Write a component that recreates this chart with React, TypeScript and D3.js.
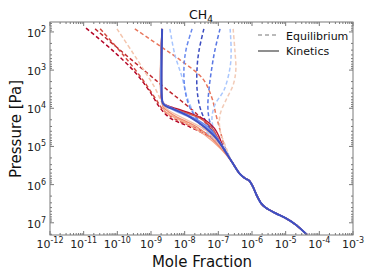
import * as d3 from "d3";

// log10(mole fraction), log10(pressure / Pa) pairs
const deepProfile: [number, number][] = [
  [-6.6, 5.4], [-6.36, 5.72], [-6.2, 5.84], [-6.08, 5.9], [-5.97, 6.06],
  [-5.85, 6.3], [-5.72, 6.5], [-5.6, 6.6], [-5.3, 6.75], [-5.0, 6.88],
  [-4.7, 7.05], [-4.37, 7.31],
];

// equilibrium (dashed), upper parts
const eqDarkRed: [number, number][] = [[-10.93, 1.9], [-10.16, 2.47], [-9.48, 3.05], [-9.03, 3.57], [-8.73, 3.99], [-8.44, 4.25], [-7.84, 4.49], [-7.25, 4.75], [-6.89, 5.01]];
const eqRed1: [number, number][] = [[-10.66, 1.92], [-9.86, 2.52], [-9.12, 3.07], [-8.58, 3.47], [-7.78, 4.04], [-7.4, 4.36], [-7.1, 4.7], [-6.89, 5.01]];
const eqRed2: [number, number][] = [[-10.51, 1.92], [-9.8, 2.63], [-9.24, 3.26], [-8.88, 3.73], [-8.64, 4.04], [-8.29, 4.28], [-7.54, 4.57], [-7.1, 4.83], [-6.89, 5.04]];
const eqPale: [number, number][] = [[-10.01, 1.92], [-9.56, 2.52], [-9.27, 2.92], [-8.88, 3.47], [-8.67, 3.86], [-8.44, 4.17], [-7.84, 4.43], [-7.19, 4.77], [-6.89, 5.04]];
const eqSalmon: [number, number][] = [[-9.48, 1.92], [-8.7, 2.39], [-8.14, 2.73], [-7.46, 3.23], [-7.19, 3.73], [-7.07, 4.17], [-6.95, 4.57], [-6.83, 4.96]];
const eqLightBlue1: [number, number][] = [[-8.44, 1.92], [-8.29, 2.6], [-8.08, 3.18], [-7.93, 3.7], [-7.75, 4.09], [-7.54, 4.43], [-7.19, 4.77], [-6.89, 5.04]];
const eqBlue1: [number, number][] = [[-7.78, 1.92], [-7.96, 2.47], [-8.02, 2.92], [-7.99, 3.52], [-7.84, 3.99], [-7.6, 4.3], [-7.25, 4.62], [-6.89, 4.98]];
const eqDarkBlue: [number, number][] = [[-7.43, 1.92], [-7.57, 2.47], [-7.63, 2.92], [-7.63, 3.52], [-7.54, 3.99], [-7.4, 4.3], [-7.16, 4.62], [-6.89, 4.98]];
const eqBlue2: [number, number][] = [[-6.95, 1.92], [-7.1, 2.47], [-7.19, 2.92], [-7.28, 3.52], [-7.31, 3.99], [-7.25, 4.36], [-7.07, 4.7], [-6.83, 5.01]];
const eqLightBlue2: [number, number][] = [[-6.65, 1.92], [-6.62, 2.47], [-6.65, 2.92], [-6.83, 3.52], [-7.1, 3.91], [-7.19, 4.3], [-7.07, 4.7], [-6.83, 5.01]];
const eqPink: [number, number][] = [[-6.56, 1.92], [-6.51, 2.47], [-6.48, 2.99], [-6.56, 3.39], [-6.77, 3.78], [-6.95, 4.17], [-6.95, 4.57], [-6.8, 4.96]];

// kinetics (solid), upper parts
const kinDarkRed: [number, number][] = [[-8.67, 1.92], [-8.67, 3.8], [-8.58, 3.9], [-8.38, 3.97], [-7.84, 4.13], [-7.4, 4.3], [-7.12, 4.52], [-6.95, 4.8], [-6.85, 5.05]];
const kinRed: [number, number][] = [[-8.67, 1.92], [-8.67, 3.82], [-8.55, 3.94], [-8.14, 4.07], [-7.55, 4.26], [-7.2, 4.5], [-7.0, 4.8], [-6.85, 5.05]];
const kinSalmon: [number, number][] = [[-8.67, 1.92], [-8.67, 3.8], [-8.64, 3.96], [-8.35, 4.17], [-7.63, 4.49], [-7.19, 4.8], [-6.9, 5.07]];
const kinLightSalmon: [number, number][] = [[-8.67, 1.92], [-8.67, 3.83], [-8.58, 4.09], [-8.14, 4.3], [-7.4, 4.7], [-6.92, 5.07]];
const kinPale: [number, number][] = [[-8.67, 1.92], [-8.67, 3.86], [-8.5, 4.04], [-8.0, 4.28], [-7.3, 4.62], [-6.88, 5.05]];
const kinLightBlue: [number, number][] = [[-8.67, 1.92], [-8.67, 3.8], [-8.58, 3.91], [-8.29, 4.07], [-7.69, 4.3], [-7.25, 4.57], [-6.98, 4.85], [-6.85, 5.05]];
const kinBlue: [number, number][] = [[-8.67, 1.92], [-8.67, 3.8], [-8.64, 3.88], [-8.38, 3.99], [-7.78, 4.23], [-7.31, 4.49], [-7.02, 4.8], [-6.85, 5.05]];
const kinDarkBlue: [number, number][] = [[-8.67, 1.92], [-8.67, 3.78], [-8.64, 3.88], [-8.53, 3.96], [-8.35, 4.02], [-7.84, 4.23], [-7.4, 4.5], [-7.1, 4.75], [-6.85, 5.05]];

const eqSeries = [eqDarkRed, eqRed1, eqRed2, eqPale, eqSalmon, eqLightBlue1, eqBlue1, eqDarkBlue, eqBlue2, eqLightBlue2, eqPink];
const eqColors = ["#b40426", "#c0282f", "#d24b40", "#f4c5ad", "#e8765c", "#a7c5fe", "#6788ee", "#3b4cc0", "#5a78e4", "#aac7fd", "#f2cbb7"];
const kinSeries = [kinLightSalmon, kinSalmon, kinPale, kinDarkRed, kinRed, kinLightBlue, kinBlue, kinDarkBlue];
const kinColors = ["#f4a385", "#ee8468", "#f2c0a8", "#b40426", "#d65244", "#9dbdfc", "#6384eb", "#3b4cc0"];

const xExponents = [-12, -11, -10, -9, -8, -7, -6, -5, -4, -3];
const yExponents = [2, 3, 4, 5, 6, 7];

const W = 374;
const H = 280;
const M = { left: 50, right: 353, top: 22, bottom: 235 };
const FONT = "DejaVu Sans, sans-serif";
const FRAME = "#7a7a7a";

export default function App() {
  const x = d3.scaleLog().domain([1e-12, 1e-3]).range([M.left, M.right]);
  const y = d3.scaleLog().domain([Math.pow(10, 1.74), Math.pow(10, 7.32)]).range([M.top, M.bottom]);

  const line = d3
    .line<[number, number]>()
    .x((d) => x(Math.pow(10, d[0])))
    .y((d) => y(Math.pow(10, d[1])))
    .curve(d3.curveCatmullRom.alpha(0.5));

  const full = (upper: [number, number][]) => {
    const lastP = upper[upper.length - 1][1];
    return upper.concat(deepProfile.filter((d) => d[1] > lastP + 0.15));
  };

  // minor ticks from the scales
  const xMinor: number[] = [];
  xExponents.slice(0, -1).forEach((e) => {
    for (let k = 2; k <= 9; k++) xMinor.push(k * Math.pow(10, e));
  });
  const yMinor: number[] = [];
  for (let e = 1; e <= 7; e++) {
    for (let k = 2; k <= 9; k++) {
      const v = k * Math.pow(10, e);
      if (v >= y.domain()[0] && v <= y.domain()[1]) yMinor.push(v);
    }
  }

  return (
    <svg width={W} height={H} style={{ position: "absolute", left: 0, top: 0, background: "#fff" }} fontFamily={FONT}>
      <defs>
        <clipPath id="plot">
          <rect x={M.left} y={M.top} width={M.right - M.left} height={M.bottom - M.top} />
        </clipPath>
      </defs>

      <g clipPath="url(#plot)" fill="none">
        {eqSeries.map((s, i) => (
          <path key={"e" + i} d={line(full(s)) || ""} stroke={eqColors[i]} strokeWidth={1.5} strokeDasharray="4,2.5" />
        ))}
        {kinSeries.map((s, i) => (
          <path
            key={"k" + i}
            d={line(full(s)) || ""}
            stroke={kinColors[i]}
            strokeWidth={i === kinSeries.length - 1 ? 2 : 1.4}
            opacity={0.95}
          />
        ))}
      </g>

      {/* frame */}
      <rect x={M.left} y={M.top} width={M.right - M.left} height={M.bottom - M.top} fill="none" stroke={FRAME} strokeWidth={1} />

      {/* x ticks */}
      {xExponents.map((e) => {
        const px = x(Math.pow(10, e));
        return (
          <g key={"xt" + e}>
            <line x1={px} x2={px} y1={M.bottom} y2={M.bottom - 4} stroke={FRAME} />
            <line x1={px} x2={px} y1={M.top} y2={M.top + 4} stroke={FRAME} />
            <text x={px} y={248} textAnchor="middle" fontSize={11} fill="#222">
              10<tspan fontSize={8} dy={-5}>{e}</tspan>
            </text>
          </g>
        );
      })}
      {xMinor.map((v, i) => {
        const px = x(v);
        return (
          <g key={"xm" + i}>
            <line x1={px} x2={px} y1={M.bottom} y2={M.bottom - 2} stroke={FRAME} />
            <line x1={px} x2={px} y1={M.top} y2={M.top + 2} stroke={FRAME} />
          </g>
        );
      })}

      {/* y ticks */}
      {yExponents.map((e) => {
        const py = y(Math.pow(10, e));
        return (
          <g key={"yt" + e}>
            <line x1={M.left} x2={M.left + 4} y1={py} y2={py} stroke={FRAME} />
            <line x1={M.right} x2={M.right - 4} y1={py} y2={py} stroke={FRAME} />
            <text x={41} y={py + 5} textAnchor="end" fontSize={11} fill="#222">
              10
            </text>
            <text x={41} y={py} fontSize={8} fill="#222">
              {e}
            </text>
          </g>
        );
      })}
      {yMinor.map((v, i) => {
        const py = y(v);
        return (
          <g key={"ym" + i}>
            <line x1={M.left} x2={M.left + 2} y1={py} y2={py} stroke={FRAME} />
            <line x1={M.right} x2={M.right - 2} y1={py} y2={py} stroke={FRAME} />
          </g>
        );
      })}

      {/* title */}
      <text x={201} y={19} textAnchor="middle" fontSize={12.5} fill="#111">
        CH<tspan fontSize={9} dy={3}>4</tspan>
      </text>

      {/* axis labels */}
      <text x={202} y={267} textAnchor="middle" fontSize={15} fill="#111">
        Mole Fraction
      </text>
      <text transform="translate(21,129) rotate(-90)" textAnchor="middle" fontSize={15} fill="#111">
        Pressure [Pa]
      </text>

      {/* legend */}
      <line x1={258} x2={279} y1={35} y2={35} stroke="#777" strokeWidth={1.2} strokeDasharray="4,3" />
      <text x={286} y={39.5} fontSize={11} fill="#111">
        Equilibrium
      </text>
      <line x1={258} x2={279} y1={51} y2={51} stroke="#444" strokeWidth={1.2} />
      <text x={286} y={55} fontSize={11} fill="#111">
        Kinetics
      </text>
    </svg>
  );
}
